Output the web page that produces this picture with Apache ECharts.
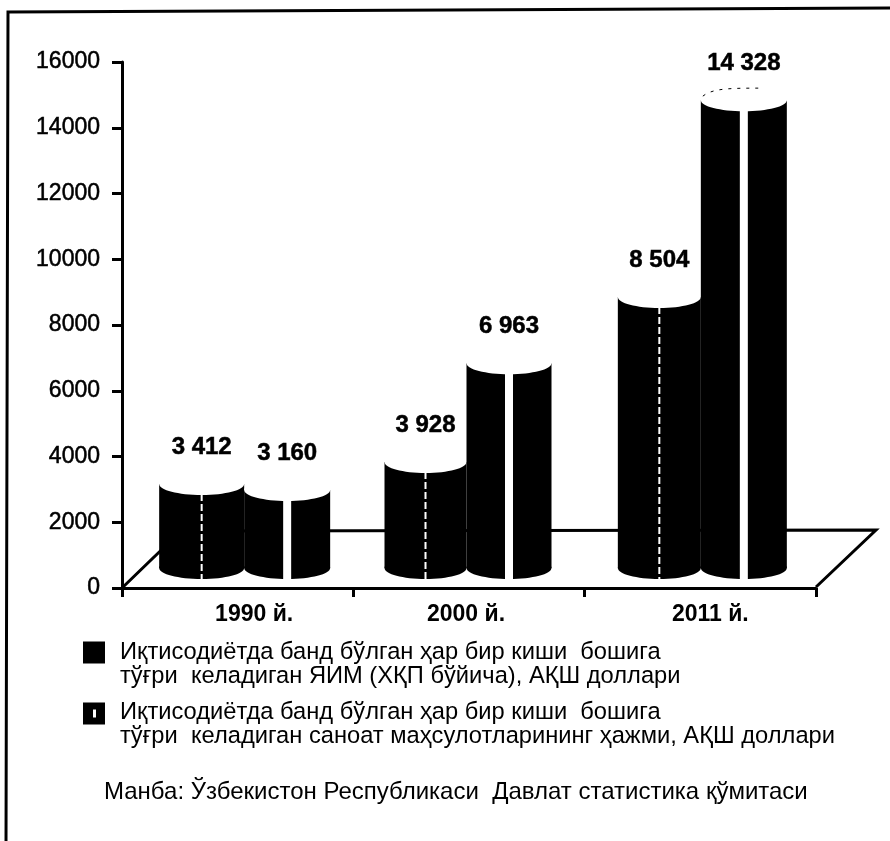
<!DOCTYPE html>
<html>
<head>
<meta charset="utf-8">
<style>
	html, body { margin: 0; padding: 0; background: #fff; }
	#chart { width: 890px; height: 841px; }
</style>
<script src="https://cdn.jsdelivr.net/npm/echarts@6/dist/echarts.min.js"></script>
</head>
<body>
<div id="chart"></div>
<script>
var categories = ['1990 й.', '2000 й.', '2011 й.'];
var yTicks = [0, 2000, 4000, 6000, 8000, 10000, 12000, 14000, 16000];

// printed labels
var gdpLabels = ['3 412', '3 928', '8 504'];
var industryLabels = ['3 160', '6 963', '14 328'];

// cylinder tops as they read against the axis (the drawing does not follow the printed numbers exactly)
var gdpHeights = [3160, 3830, 8850];
var industryHeights = [2980, 6840, 14840];

var gdpName = 'Иқтисодиётда банд бўлган ҳар бир киши  бошига\nтўғри  келадиган ЯИМ (ХҚП бўйича), АҚШ доллари';
var industryName = 'Иқтисодиётда банд бўлган ҳар бир киши  бошига\nтўғри  келадиган саноат маҳсулотларининг ҳажми, АҚШ доллари';
var sourceText = 'Манба: Ўзбекистон Республикаси  Давлат статистика қўмитаси';

var FONT = '"Liberation Sans", Arial, sans-serif';
var FLOOR_VALUE = 610; // cylinders stand on the 3d floor, above the axis line

function pairs(values) {
	return values.map(function(v, i) {
		return [i, v];
	});
}

// one cylinder: black body, black bottom ellipse, white top ellipse, white streak
function cylinderRender(labels, shifts, widths, streak, dashed) {
	return function(params, api) {
		var i = api.value(0);
		var top = api.coord([i, api.value(1)]);
		var bottom = api.coord([i, FLOOR_VALUE]);
		var left = top[0] + shifts[i];
		var w = widths[i];
		var cx = left + w / 2;
		var ry = 11;
		var children = [{
			type: 'rect',
			shape: { x: left, y: top[1], width: w, height: bottom[1] - top[1] },
			style: { fill: '#000' }
		}, {
			type: 'ellipse',
			shape: { cx: cx, cy: bottom[1], rx: w / 2, ry: ry },
			style: { fill: '#000' }
		}, {
			type: 'line',
			shape: { x1: cx, y1: top[1], x2: cx, y2: bottom[1] + ry + 1 },
			style: { stroke: '#fff', lineWidth: streak, lineDash: dashed ? [7, 3] : null }
		}, {
			type: 'ellipse',
			shape: { cx: cx, cy: top[1], rx: w / 2, ry: ry },
			style: { fill: '#fff' }
		}, {
			type: 'text',
			style: {
				text: labels[i],
				x: cx,
				y: top[1] - 37,
				align: 'center',
				verticalAlign: 'middle',
				font: 'bold 24px ' + FONT,
				fill: '#000',
				stroke: '#000',
				lineWidth: 0.5
			}
		}];
		// the scan kept a dotted back rim on the tall cylinder only
		if (!dashed && i === 2) {
			children.push({
				type: 'bezierCurve',
				shape: {
					x1: left + 2, y1: top[1] - 4,
					cpx1: left + 12, cpy1: top[1] - 12,
					cpx2: left + 30, cpy2: top[1] - 12,
					x2: left + 62, y2: top[1] - 12
				},
				style: { stroke: '#000', fill: null, lineWidth: 1, lineDash: [3, 6] }
			});
		}
		return { type: 'group', children: children };
	};
}

var chart = echarts.init(document.getElementById('chart'));

chart.setOption({
	backgroundColor: '#fff',
	animation: false,
	title: {
		text: sourceText,
		left: 99,
		top: 775,
		textStyle: { fontFamily: FONT, fontSize: 24, fontWeight: 'normal', color: '#000' }
	},
	legend: {
		left: 78,
		top: 635,
		orient: 'vertical',
		selectedMode: false,
		itemWidth: 22,
		itemHeight: 45,
		itemGap: 12,
		textStyle: { fontFamily: FONT, fontSize: 23.7, color: '#000', lineHeight: 24, padding: [0, 0, 0, 10] },
		data: [{
			name: gdpName,
			icon: 'path://M0 0H22V22H0Z M0 45h0.01v0.01z'
		}, {
			name: industryName,
			icon: 'path://M0 1H22V23H0Z M10 8V16H13V8Z M0 45h0.01v0.01z M0 0h0.01v0.01z'
		}]
	},
	grid: { left: 122, top: 62, width: 694, height: 526 },
	xAxis: {
		type: 'category',
		data: categories,
		axisLine: { lineStyle: { color: '#000', width: 3 } },
		axisTick: { show: true, length: 9, lineStyle: { color: '#000', width: 3 } },
		axisLabel: {
			interval: 0,
			margin: 15,
			formatter: function(value, i) {
				return '{l' + i + '|' + value + '}';
			},
			rich: {
				l0: { fontFamily: FONT, fontSize: 23, fontWeight: 'bold', color: '#000', padding: [0, 0, 0, 33] },
				l1: { fontFamily: FONT, fontSize: 23, fontWeight: 'bold', color: '#000', padding: [0, 6, 0, 0] },
				l2: { fontFamily: FONT, fontSize: 23, fontWeight: 'bold', color: '#000', padding: [0, 0, 0, 20] }
			}
		}
	},
	yAxis: {
		type: 'value',
		min: yTicks[0],
		max: yTicks[yTicks.length - 1],
		interval: 2000,
		splitLine: { show: false },
		axisLine: { show: true, lineStyle: { color: '#000', width: 3 } },
		axisTick: { show: true, length: 10, lineStyle: { color: '#000', width: 3 } },
		axisLabel: {
			margin: 22,
			fontFamily: FONT,
			fontSize: 23,
			color: '#000',
			textBorderColor: '#000',
			textBorderWidth: 0.5,
			formatter: function(value) {
				return String(value);
			}
		}
	},
	graphic: [{
		// frame, only top and left survive in the scan
		type: 'polyline',
		shape: { points: [[6, 841], [8, 12], [890, 8]] },
		style: { fill: null, stroke: '#000', lineWidth: 3 },
		silent: true
	}, {
		// 3d floor
		type: 'polyline',
		shape: { points: [[122, 588], [181, 531], [876, 530], [816, 587]] },
		style: { fill: null, stroke: '#000', lineWidth: 3 },
		silent: true
	}],
	series: [{
		name: gdpName,
		type: 'custom',
		clip: false,
		itemStyle: { color: '#000' },
		data: pairs(gdpHeights),
		encode: { x: 0, y: 1 },
		renderItem: cylinderRender(gdpLabels, [-78.5, -84.5, -82.5], [85, 82, 83], 2, true)
	}, {
		name: industryName,
		type: 'custom',
		clip: false,
		itemStyle: { color: '#000' },
		data: pairs(industryHeights),
		encode: { x: 0, y: 1 },
		renderItem: cylinderRender(industryLabels, [6.5, -2.5, 0.5], [86, 85, 86], 8, false)
	}]
});
</script>
</body>
</html>
